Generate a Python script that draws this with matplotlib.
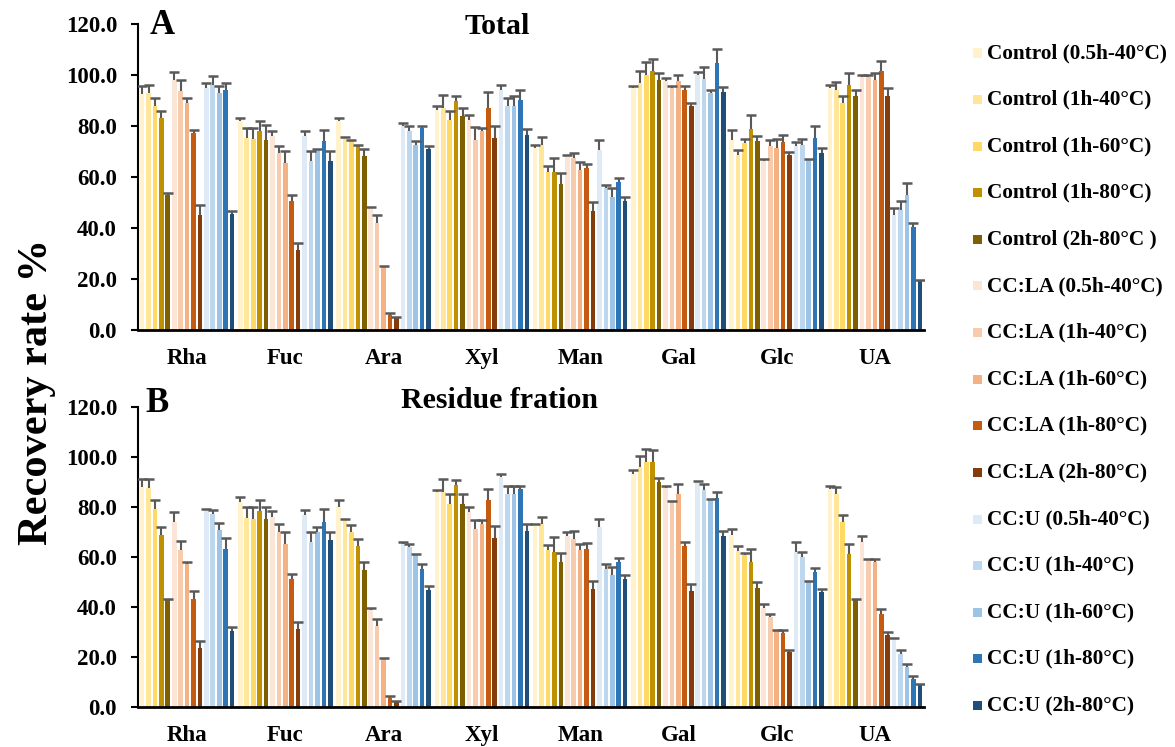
import numpy as np
import matplotlib
matplotlib.use("Agg")
import matplotlib.pyplot as plt
from matplotlib.patches import Rectangle

plt.rcParams["font.family"] = ["Liberation Serif", "DejaVu Serif"]
plt.rcParams["font.weight"] = "bold"

SUGARS = ["Rha", "Fuc", "Ara", "Xyl", "Man", "Gal", "Glc", "UA"]

LABELS = [
    "Control (0.5h-40°C)", "Control (1h-40°C)", "Control (1h-60°C)",
    "Control (1h-80°C)", "Control (2h-80°C )",
    "CC:LA (0.5h-40°C)", "CC:LA (1h-40°C)", "CC:LA (1h-60°C)",
    "CC:LA (1h-80°C)", "CC:LA (2h-80°C)",
    "CC:U (0.5h-40°C)", "CC:U (1h-40°C)", "CC:U (1h-60°C)",
    "CC:U (1h-80°C)", "CC:U (2h-80°C)",
]
COLORS = [
    "#FFF2CC", "#FFE699", "#FFD966", "#BF9000", "#7F6000",
    "#FBE5D6", "#F8CBAD", "#F4B183", "#C55A11", "#843C0C",
    "#DEEBF7", "#BDD7EE", "#9DC3E6", "#2E75B6", "#1F4E79",
]

# panel A - Total (rows = treatments, cols = sugars)
total_control = [
    [92.5, 81.8, 82.0, 86.4, 71.3, 94.9, 74.5, 94.9],
    [93.0, 75.2, 75.2, 87.0, 72.6, 96.9, 68.6, 94.2],
    [87.7, 74.8, 73.9, 82.4, 62.0, 100.0, 73.2, 89.0],
    [83.0, 77.8, 71.9, 89.6, 62.0, 101.4, 78.7, 96.2],
    [53.0, 74.5, 68.0, 83.7, 57.2, 97.9, 73.9, 91.6],
]
total_ccla = [
    [98.0, 75.9, 47.6, 82.4, 68.0, 97.5, 66.0, 99.2],
    [93.6, 69.3, 42.0, 74.5, 67.3, 94.9, 72.2, 99.2],
    [89.0, 65.4, 24.5, 77.8, 62.7, 97.5, 71.3, 97.9],
    [77.0, 50.3, 5.5, 87.0, 63.4, 94.2, 73.5, 101.4],
    [45.0, 31.2, 4.5, 75.2, 46.7, 87.9, 68.6, 91.6],
]
total_ccu = [
    [95.0, 75.9, 80.0, 94.2, 70.6, 100.0, 71.9, 45.0],
    [96.0, 66.0, 78.0, 87.7, 55.5, 98.2, 72.6, 47.0],
    [93.0, 70.6, 72.5, 87.7, 52.2, 92.9, 66.7, 52.9],
    [94.0, 73.9, 79.0, 90.3, 58.0, 104.7, 75.2, 40.4],
    [45.4, 66.0, 71.0, 76.5, 50.3, 93.2, 69.3, 19.2],
]
total_control_err = [
    [3.0, 1.2, 1.0, 1.3, 1.3, 0.9, 3.7, 1.3],
    [3.0, 3.8, 0.4, 5.3, 3.0, 4.5, 2.0, 2.9],
    [3.3, 4.2, 0.5, 3.3, 2.3, 5.0, 1.6, 2.6],
    [3.0, 3.9, 0.7, 2.0, 5.3, 4.9, 5.7, 4.6],
    [0.5, 5.9, 3.0, 3.3, 4.2, 2.9, 2.0, 2.6],
]
total_ccla_err = [
    [3.0, 1.9, 0.7, 2.0, 0.6, 1.3, 0.9, 0.8],
    [4.4, 2.7, 3.0, 4.9, 2.0, 0.9, 2.3, 0.8],
    [2.0, 4.6, 0.3, 1.2, 2.9, 2.5, 3.5, 2.9],
    [1.3, 2.6, 1.1, 6.2, 1.7, 1.6, 3.0, 4.0],
    [4.0, 2.7, 0.5, 4.8, 3.2, 1.1, 1.0, 3.3],
]
total_ccu_err = [
    [2.0, 2.1, 1.0, 2.0, 3.9, 1.0, 1.6, 2.6],
    [3.5, 4.0, 2.0, 3.3, 1.3, 4.8, 2.2, 3.3],
    [2.5, 0.4, 1.5, 3.9, 3.3, 1.3, 0.3, 4.8],
    [3.0, 4.3, 1.0, 3.7, 1.5, 5.3, 4.8, 1.3],
    [1.3, 4.0, 1.0, 2.2, 1.9, 2.1, 2.0, 0.3],
]

# panel B - Residue fraction
resid_control = [
    [88.0, 82.0, 80.0, 86.0, 72.7, 93.3, 68.7, 87.3],
    [87.7, 75.7, 74.7, 86.0, 73.3, 96.0, 62.4, 85.0],
    [79.3, 75.3, 70.0, 81.3, 62.7, 98.0, 60.7, 74.0],
    [68.7, 78.4, 64.4, 88.7, 62.0, 98.0, 58.0, 61.3],
    [42.7, 75.0, 54.7, 81.3, 58.0, 90.0, 47.7, 42.7],
]
resid_ccla = [
    [74.0, 76.0, 38.7, 78.0, 68.3, 87.7, 39.6, 66.0],
    [62.7, 70.0, 32.3, 71.0, 67.3, 82.0, 36.0, 58.7],
    [57.0, 65.3, 19.3, 73.0, 62.7, 85.3, 30.4, 58.0],
    [43.0, 51.0, 3.5, 82.7, 63.3, 64.3, 29.6, 37.3],
    [23.6, 31.3, 2.0, 67.7, 47.3, 46.4, 22.0, 28.7],
]
resid_ccu = [
    [78.7, 76.7, 65.3, 92.0, 72.0, 90.0, 62.0, 27.3],
    [77.3, 66.0, 64.0, 85.3, 55.3, 86.7, 60.0, 21.0],
    [70.7, 70.0, 60.7, 85.0, 52.7, 82.7, 50.0, 16.0],
    [63.3, 74.0, 55.3, 87.3, 58.0, 83.7, 54.0, 11.3],
    [30.4, 66.7, 46.7, 70.4, 51.0, 68.3, 46.0, 8.7],
]
resid_control_err = [
    [3.0, 2.0, 2.7, 0.7, 0.6, 1.4, 2.6, 1.2],
    [3.3, 4.3, 0.6, 5.3, 2.7, 4.3, 2.0, 3.0],
    [3.4, 4.7, 2.7, 4.0, 2.0, 5.0, 1.0, 2.7],
    [3.3, 4.3, 2.6, 2.0, 6.0, 4.7, 5.3, 3.7],
    [0.6, 5.0, 3.3, 4.0, 3.6, 1.7, 2.3, 0.6],
]
resid_ccla_err = [
    [4.0, 2.3, 0.9, 2.0, 1.7, 0.6, 1.4, 2.3],
    [3.7, 3.3, 3.0, 3.7, 3.2, 0.3, 1.0, 0.3],
    [1.0, 4.7, 0.3, 1.7, 2.6, 3.7, 0.3, 1.3],
    [3.3, 2.3, 0.8, 4.3, 2.4, 1.7, 1.1, 1.7],
    [2.8, 2.7, 0.4, 4.7, 3.1, 2.6, 0.7, 1.3],
]
resid_ccu_err = [
    [0.6, 2.0, 0.7, 1.3, 3.3, 0.4, 4.0, 0.3],
    [1.4, 4.0, 1.0, 3.0, 2.0, 2.6, 2.0, 1.7],
    [2.9, 2.0, 0.3, 3.3, 3.3, 0.6, 0.3, 1.0],
    [4.4, 5.0, 1.7, 1.0, 1.6, 2.3, 1.7, 1.1],
    [1.6, 3.3, 1.7, 2.9, 1.7, 2.1, 1.0, 0.3],
]


def draw_panel(ax, vals, errs, title, letter_xy, fig):
    x = np.arange(len(SUGARS))
    slot = 0.0654
    for i, (v, e) in enumerate(zip(vals, errs)):
        xi = x + (i - 7) * slot
        ax.bar(xi, v, width=0.047, color=COLORS[i], zorder=2)
        _, caps, _ = ax.errorbar(xi, v, yerr=[np.zeros(len(e)), e], fmt="none",
                                 ecolor="#595959", elinewidth=1.5, capsize=3.3,
                                 capthick=1.8, zorder=3)
        caps[0].set_visible(False)  # only the upper "T"
    ax.set_xlim(-0.5, 7.5)
    ax.set_ylim(0, 120)
    ax.set_yticks(np.arange(0, 121, 20))
    ax.set_yticklabels([f"{t:.1f}" for t in np.arange(0, 121, 20)])
    ax.set_xticks(x)
    ax.set_xticklabels(SUGARS)
    ax.tick_params(axis="x", length=0, pad=13, labelsize=16.5)
    ax.tick_params(axis="y", length=5, width=1.5, pad=10, labelsize=16.5,
                   direction="out")
    for lab in ax.get_xticklabels() + ax.get_yticklabels():
        lab.set_fontweight("bold")
    for s in ["top", "right"]:
        ax.spines[s].set_visible(False)
    ax.spines["left"].set_linewidth(1.5)
    ax.spines["bottom"].set_linewidth(2)
    ax.text(title[1], title[2], title[0], transform=ax.transAxes,
            ha="center", va="center", fontsize=21.5, fontweight="bold")
    fig.text(letter_xy[0], letter_xy[1], letter_xy[2], ha="center",
             va="center", fontsize=25, fontweight="bold")


fig = plt.figure(figsize=(11.75, 7.47), dpi=100)
axA = fig.add_axes([0.1174, 0.5589, 0.669, 0.409])
axB = fig.add_axes([0.1174, 0.0539, 0.669, 0.4013])

vals_A = total_control + total_ccla + total_ccu
errs_A = total_control_err + total_ccla_err + total_ccu_err
vals_B = resid_control + resid_ccla + resid_ccu
errs_B = resid_control_err + resid_ccla_err + resid_ccu_err

draw_panel(axA, vals_A, errs_A, ("Total", 0.457, 0.993), (0.138, 0.966, "A"), fig)
draw_panel(axB, vals_B, errs_B, ("Residue fration", 0.46, 1.023), (0.1336, 0.4595, "B"), fig)

fig.text(0.0315, 0.475, "Recovery rate %", rotation=90, ha="center",
         va="center", fontsize=30.5, fontweight="bold")

# legend drawn by hand down the right side
y0, dy = 53, 46.6
for i, (lab, col) in enumerate(zip(LABELS, COLORS)):
    yc = y0 + i * dy
    fig.patches.append(Rectangle((973 / 1175, 1 - (yc + 4.5) / 747),
                                 9 / 1175, 9 / 747, transform=fig.transFigure,
                                 facecolor=col, edgecolor="none"))
    fig.text(987 / 1175, 1 - yc / 747, lab, ha="left", va="center",
             fontsize=15.3, fontweight="bold")

fig.savefig("out.png", dpi=100)
